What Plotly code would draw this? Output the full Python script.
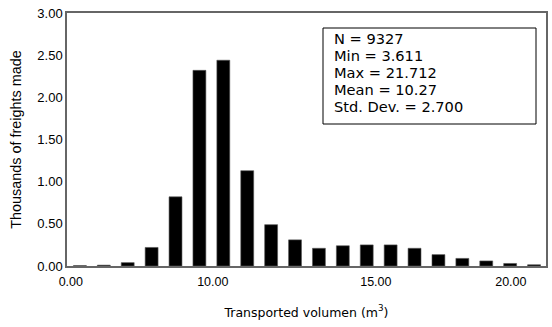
import plotly.graph_objects as go

# Histogram bins (bin index along x) and counts in thousands
bin_index = list(range(20))
freights_thousands = [0.005, 0.01, 0.04, 0.22, 0.82, 2.32, 2.44, 1.13, 0.49, 0.31,
                      0.21, 0.24, 0.25, 0.25, 0.21, 0.135, 0.09, 0.06, 0.03, 0.015]

x_tick_pos = [-0.38, 5.56, 12.38, 18.03]
x_tick_text = ["0.00", "10.00", "15.00", "20.00"]
y_tick_vals = [0, 0.5, 1.0, 1.5, 2.0, 2.5, 3.0]
y_tick_text = ["0.00", "0.50", "1.00", "1.50", "2.00", "2.50", "3.00"]

stats_lines = ["N = 9327", "Min = 3.611", "Max = 21.712", "Mean = 10.27", "Std. Dev. = 2.700"]

ARIAL = "Arial, 'Liberation Sans', sans-serif"
VERDANA = "Verdana, 'DejaVu Sans', sans-serif"

fig = go.Figure()
fig.add_trace(go.Bar(
    x=bin_index, y=freights_thousands, width=0.54,
    marker=dict(color="black", line=dict(color="#555555", width=0.6)),
))

# plot area in pixels: x 67..546, y 13..266
plot_h = 253.0
annotations = []
for i, line in enumerate(stats_lines):
    center_px = 38.5 + 17 * i
    annotations.append(dict(
        xref="paper", yref="paper", x=(332 - 67) / 479.0, y=(266 - center_px) / plot_h,
        xanchor="left", yanchor="middle", showarrow=False, text=line,
        font=dict(family=VERDANA, size=14.6, color="black"),
    ))

fig.update_layout(
    width=552, height=327,
    margin=dict(l=67, r=6, t=13, b=61),
    paper_bgcolor="white", plot_bgcolor="white",
    showlegend=False,
    font=dict(family=ARIAL, size=13, color="black"),
    xaxis=dict(
        range=[-0.54, 19.5], tickvals=x_tick_pos, ticktext=x_tick_text,
        showgrid=False, zeroline=False, showline=True, mirror=True,
        linecolor="#666666", linewidth=1.5,
        ticks="outside", ticklen=3, tickcolor="rgba(0,0,0,0)", automargin=False,
        tickfont=dict(family=ARIAL, size=12.5),
        title=dict(text="Transported volumen (m<sup>3</sup>)",
                   font=dict(family=VERDANA, size=12.5), standoff=20),
    ),
    yaxis=dict(
        range=[0, 3.0], tickvals=y_tick_vals, ticktext=y_tick_text,
        showgrid=False, zeroline=False, showline=True, mirror=True,
        linecolor="#666666", linewidth=1.5, ticks="", automargin=False,
        tickfont=dict(family=ARIAL, size=13),
        title=dict(text="Thousands of freights made",
                   font=dict(family=ARIAL, size=14.4), standoff=12),
    ),
    shapes=[dict(
        type="rect", xref="paper", yref="paper",
        x0=(323 - 67) / 479.0, x1=(536 - 67) / 479.0,
        y0=(266 - 124) / plot_h, y1=(266 - 28) / plot_h,
        line=dict(color="black", width=1), fillcolor="white", layer="above",
    )],
    annotations=annotations,
)

fig.write_html("out.html", config={"displayModeBar": False},
               post_script="document.body.style.margin='0px';")
